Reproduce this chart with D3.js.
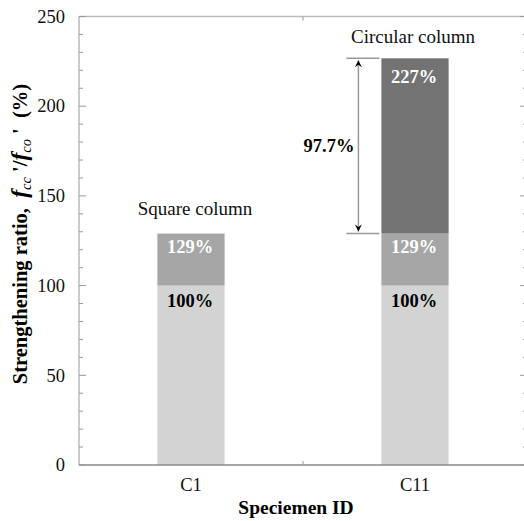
<!DOCTYPE html>
<html>
<head>
<meta charset="utf-8">
<script src="https://cdn.jsdelivr.net/npm/d3@7"></script>
<style>
  body { margin: 0; background: #fff; }
</style>
</head>
<body>
<script>
// specimen ids and strength levels (% of unconfined f_co')
const specimens = ['C1', 'C11'];
const unconfined = [100, 100];
const squareLevel = [129, 129];
const circularLevel = [0, 226.7];   // 0 = no circular confinement
const groupNotes = ['Square column', 'Circular column'];
const gainNote = '97.7%';
const yTicks = [0, 50, 100, 150, 200, 250];

const layerKeys = ['base', 'square', 'circular'];
const layerColors = ['#d3d3d3', '#a6a6a6', '#737373'];
const layerText = ['#000', '#fff', '#fff'];

document.addEventListener('DOMContentLoaded', () => {
  drawChart();
});

function drawChart() {
  let width = 524, height = 521;
  let margin = { left: 79, right: -3, top: 16.5, bottom: 56 };
  let plotW = width - margin.left - margin.right;
  let plotH = height - margin.top - margin.bottom;

  let rows = specimens.map((id, i) => ({
    id: id,
    base: unconfined[i],
    square: squareLevel[i] - unconfined[i],
    circular: circularLevel[i] ? circularLevel[i] - squareLevel[i] : 0
  }));

  let series = d3.stack().keys(layerKeys)(rows);

  let x = d3.scaleBand()
            .domain(specimens)
            .range([0, plotW])
            .paddingInner(0.7)
            .paddingOuter(0.35);

  let y = d3.scaleLinear()
            .domain([0, 250])
            .range([plotH, 0]);

  let svg = d3.select('body').append('svg')
              .attr('width', width)
              .attr('height', height)
              .attr('font-family', 'Liberation Serif, Times New Roman, serif');

  let g = svg.append('g')
             .attr('transform', 'translate(' + margin.left + ',' + margin.top + ')');

  // bars
  series.forEach((s, li) => {
    g.append('g').selectAll('rect')
     .data(s.filter(d => d[1] > d[0]))
     .join('rect')
     .attr('x', d => x(d.data.id))
     .attr('width', x.bandwidth())
     .attr('y', d => y(d[1]))
     .attr('height', d => y(d[0]) - y(d[1]))
     .attr('fill', layerColors[li]);
  });

  // segment labels
  let labelDy = [21, 19.5, 25];
  series.forEach((s, li) => {
    g.append('g').selectAll('text')
     .data(s.filter(d => d[1] > d[0]))
     .join('text')
     .attr('x', d => x(d.data.id) + x.bandwidth() / 2 - 1)
     .attr('y', d => y(d[1]) + labelDy[li])
     .attr('text-anchor', 'middle')
     .attr('font-size', 18.5)
     .attr('font-weight', 'bold')
     .attr('fill', layerText[li])
     .text(d => Math.round(d[1]) + '%');
  });

  // group notes above bars
  let notes = g.append('g');
  notes.selectAll('text')
       .data(rows)
       .join('text')
       .attr('x', d => x(d.id) + x.bandwidth() / 2 + (d.circular ? -2 : 4))
       .attr('y', d => y(d.base + d.square + d.circular) - (d.circular ? 15 : 19))
       .attr('text-anchor', 'middle')
       .attr('font-size', 19)
       .attr('fill', '#111')
       .text((d, i) => groupNotes[i]);

  // gain arrow for C11
  let c11 = rows[1];
  let bx = x(c11.id);
  let yTop = y(c11.base + c11.square + c11.circular);
  let yBot = y(c11.base + c11.square);
  let ax = bx - 23;
  let ann = g.append('g');
  ann.selectAll('line.h')
     .data([yTop, yBot])
     .join('line')
     .attr('x1', bx - 35).attr('x2', bx - 2)
     .attr('y1', d => d).attr('y2', d => d)
     .attr('stroke', '#999').attr('stroke-width', 1.5);
  ann.append('line')
     .attr('x1', ax).attr('x2', ax)
     .attr('y1', yTop + 2).attr('y2', yBot - 2)
     .attr('stroke', '#999').attr('stroke-width', 1.5);
  ann.append('path')
     .attr('d', `M${ax},${yTop + 2} L${ax - 3.5},${yTop + 9} L${ax},${yTop + 6.5} L${ax + 3.5},${yTop + 9} Z`)
     .attr('fill', '#000');
  ann.append('path')
     .attr('d', `M${ax},${yBot - 2} L${ax - 3.5},${yBot - 9} L${ax},${yBot - 6.5} L${ax + 3.5},${yBot - 9} Z`)
     .attr('fill', '#000');
  ann.append('text')
     .attr('x', ax - 4)
     .attr('y', (yTop + yBot) / 2 + 6)
     .attr('text-anchor', 'end')
     .attr('font-size', 18.5)
     .attr('font-weight', 'bold')
     .text(gainNote);

  // frame
  let frame = g.append('g');
  frame.append('line').attr('x1', 0).attr('x2', plotW).attr('y1', 0).attr('y2', 0)
       .attr('stroke', '#bbb').attr('stroke-width', 1.5);
  frame.append('line').attr('x1', 0).attr('x2', plotW).attr('y1', plotH).attr('y2', plotH)
       .attr('stroke', '#888').attr('stroke-width', 1.5);
  frame.append('line').attr('x1', 0).attr('x2', 0).attr('y1', 0).attr('y2', plotH)
       .attr('stroke', '#999').attr('stroke-width', 1);
  frame.append('line').attr('x1', plotW).attr('x2', plotW).attr('y1', 0).attr('y2', plotH)
       .attr('stroke', '#999').attr('stroke-width', 1);

  // y ticks (inside, both sides)
  let minor = d3.range(0, 251, 10);
  let tickG = g.append('g').attr('stroke', '#999').attr('stroke-width', 1);
  minor.forEach(v => {
    let len = v % 50 === 0 ? 7 : 4;
    tickG.append('line').attr('x1', 0).attr('x2', len).attr('y1', y(v)).attr('y2', y(v));
    tickG.append('line').attr('x1', plotW).attr('x2', plotW - len).attr('y1', y(v)).attr('y2', y(v));
  });

  // x boundary tick between categories (top and bottom)
  let mid = (x(specimens[0]) + x.bandwidth() + x(specimens[1])) / 2;
  tickG.append('line').attr('x1', mid).attr('x2', mid).attr('y1', plotH).attr('y2', plotH - 4);
  tickG.append('line').attr('x1', mid).attr('x2', mid).attr('y1', 0).attr('y2', 4);

  // y tick labels
  g.append('g').selectAll('text')
   .data(yTicks)
   .join('text')
   .attr('x', -14)
   .attr('y', d => y(d))
   .attr('dy', '0.34em')
   .attr('text-anchor', 'end')
   .attr('font-size', 18.5)
   .attr('fill', '#111')
   .text(d => d);

  // x tick labels
  g.append('g').selectAll('text')
   .data(specimens)
   .join('text')
   .attr('x', d => x(d) + x.bandwidth() / 2)
   .attr('y', plotH + 26)
   .attr('text-anchor', 'middle')
   .attr('font-size', 18.5)
   .attr('fill', '#111')
   .text(d => d);

  // axis titles
  svg.append('text')
     .attr('x', 296)
     .attr('y', 514)
     .attr('text-anchor', 'middle')
     .attr('font-size', 19.5)
     .attr('font-weight', 'bold')
     .text('Speciemen ID');

  let yt = svg.append('text')
              .attr('transform', 'translate(27,234) rotate(-90)')
              .attr('text-anchor', 'middle')
              .attr('font-size', 20.5)
              .attr('font-weight', 'bold');
  yt.append('tspan').text('Strengthening ratio,\u00a0\u00a0');
  yt.append('tspan').attr('font-style', 'italic').attr('font-size', 23.5).text('f');
  yt.append('tspan').attr('font-style', 'italic').attr('font-weight', 'normal').attr('font-size', 14.5).attr('dy', 4).text('cc');
  yt.append('tspan').attr('dy', -4).text('\u00a0\'/');
  yt.append('tspan').attr('font-style', 'italic').attr('font-size', 23.5).text('f');
  yt.append('tspan').attr('font-style', 'italic').attr('font-weight', 'normal').attr('font-size', 14.5).attr('dy', 4).text('co');
  yt.append('tspan').attr('dy', -4).text('\u00a0\'\u00a0\u00a0(%)');
}
</script>
</body>
</html>
